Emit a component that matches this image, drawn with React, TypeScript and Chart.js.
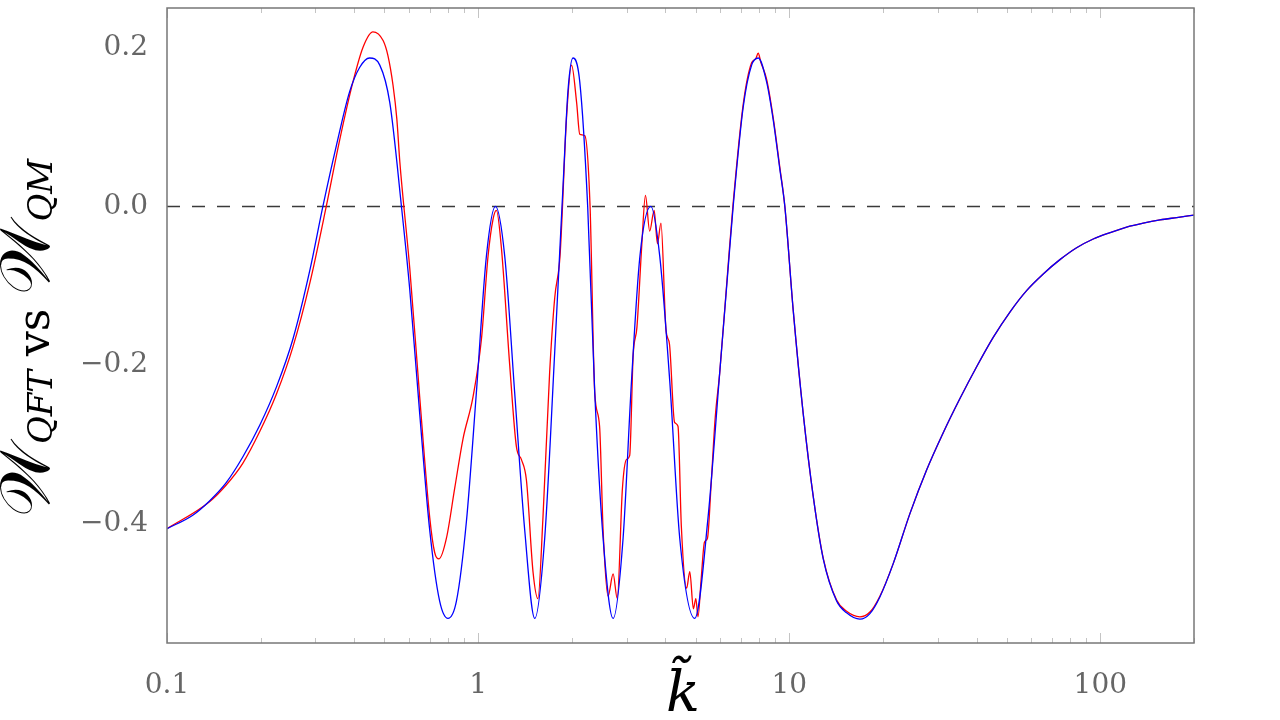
import { useEffect, useRef } from "react";
import { Chart, registerables } from "chart.js";

Chart.register(...registerables);

// k-tilde values and W values (blue: W_QM, red: W_QFT)
const blueK = [0.1, 0.121, 0.137, 0.155, 0.175, 0.199, 0.225, 0.254, 0.288, 0.317, 0.35, 0.386, 0.416, 0.448, 0.483, 0.52, 0.567, 0.603, 0.649, 0.699, 0.752, 0.8, 0.852, 0.917, 0.987, 1.063, 1.137, 1.218, 1.311, 1.412, 1.521, 1.637, 1.763, 1.875, 1.945, 2.018, 2.122, 2.25, 2.371, 2.522, 2.716, 2.924, 3.112, 3.311, 3.59, 3.836, 4.13, 4.447, 4.97, 5.483, 5.979, 6.362, 6.604, 7.112, 7.57, 7.95, 8.458, 8.875, 9.328, 9.68, 10.3, 11.09, 11.95, 12.86, 14.2, 15.29, 16.87, 18.17, 19.56, 21.59, 24.43, 27.64, 31.26, 35.38, 40.03, 45.25, 51.21, 57.94, 65.53, 74.15, 83.89, 94.89, 107.4, 121.5, 137.4, 155.5, 176, 200];
const blueW = [-0.406, -0.389, -0.371, -0.348, -0.316, -0.275, -0.227, -0.167, -0.08, 0, 0.076, 0.144, 0.175, 0.187, 0.178, 0.131, 0, -0.105, -0.261, -0.408, -0.497, -0.519, -0.497, -0.397, -0.235, -0.063, 0, -0.063, -0.235, -0.408, -0.519, -0.418, -0.183, 0.026, 0.146, 0.187, 0.157, 0, -0.235, -0.418, -0.519, -0.418, -0.22, -0.063, 0, -0.063, -0.22, -0.418, -0.519, -0.392, -0.209, -0.078, 0, 0.125, 0.178, 0.187, 0.157, 0.11, 0.047, 0, -0.131, -0.261, -0.366, -0.444, -0.497, -0.512, -0.52, -0.513, -0.492, -0.45, -0.387, -0.332, -0.285, -0.242, -0.202, -0.165, -0.133, -0.106, -0.085, -0.067, -0.052, -0.041, -0.033, -0.026, -0.021, -0.017, -0.014, -0.011];

const redK = [0.1, 0.137, 0.155, 0.175, 0.199, 0.225, 0.254, 0.288, 0.325, 0.359, 0.396, 0.427, 0.459, 0.495, 0.513, 0.533, 0.548, 0.56, 0.603, 0.649, 0.699, 0.725, 0.749, 0.791, 0.841, 0.894, 0.963, 1.025, 1.076, 1.117, 1.145, 1.188, 1.263, 1.328, 1.378, 1.43, 1.501, 1.557, 1.616, 1.698, 1.763, 1.833, 1.926, 1.997, 2.073, 2.122, 2.203, 2.29, 2.371, 2.457, 2.522, 2.616, 2.716, 2.8, 2.91, 2.996, 3.07, 3.15, 3.24, 3.36, 3.45, 3.56, 3.68, 3.77, 3.87, 4.02, 4.12, 4.28, 4.39, 4.5, 4.68, 4.79, 4.92, 5.01, 5.09, 5.21, 5.34, 5.46, 5.61, 5.78, 5.98, 6.36, 6.6, 7.11, 7.57, 7.8, 7.95, 8.1, 8.46, 8.88, 9.33, 9.68, 10.3, 11.09, 11.95, 12.86, 14.2, 15.29, 16.87, 18.17, 19.56, 21.59, 24.43, 27.64, 31.26, 35.38, 40.03, 45.25, 51.21, 57.94, 65.53, 74.15, 83.89, 94.89, 107.4, 121.5, 137.4, 155.5, 176, 200];
const redW = [-0.406, -0.372, -0.351, -0.324, -0.283, -0.236, -0.177, -0.096, 0, 0.084, 0.157, 0.201, 0.22, 0.209, 0.19, 0.152, 0.11, 0.057, -0.078, -0.24, -0.392, -0.436, -0.444, -0.418, -0.355, -0.293, -0.24, -0.167, -0.063, -0.016, -0.005, -0.052, -0.199, -0.303, -0.319, -0.345, -0.46, -0.494, -0.392, -0.209, -0.115, -0.063, 0.115, 0.178, 0.131, 0.091, 0.089, 0, -0.235, -0.277, -0.408, -0.491, -0.463, -0.494, -0.355, -0.319, -0.314, -0.188, -0.152, -0.047, 0.014, -0.031, -0.005, -0.047, -0.021, -0.157, -0.173, -0.272, -0.277, -0.403, -0.481, -0.46, -0.507, -0.494, -0.517, -0.47, -0.423, -0.418, -0.35, -0.267, -0.209, -0.075, 0.003, 0.128, 0.181, 0.186, 0.193, 0.182, 0.16, 0.112, 0.049, 0, -0.131, -0.261, -0.366, -0.443, -0.496, -0.51, -0.517, -0.511, -0.491, -0.45, -0.387, -0.332, -0.285, -0.242, -0.202, -0.165, -0.133, -0.106, -0.085, -0.067, -0.052, -0.041, -0.033, -0.026, -0.021, -0.017, -0.014, -0.011];

const zeroK = [0.1, 200];
const zeroW = [0, 0];

const xMajorTicks = [0.1, 1, 10, 100];
const xTickLabels = ["0.1", "1", "10", "100"];
const xMinorTicks = [0.2, 0.3, 0.4, 0.5, 0.6, 0.7, 0.8, 0.9, 2, 3, 4, 5, 6, 7, 8, 9, 20, 30, 40, 50, 60, 70, 80, 90, 200];
const yTicks = [-0.4, -0.2, 0, 0.2];
const yTickLabels = ["\u22120.4", "\u22120.2", "0.0", "0.2"];

const X_MIN = 0.1;
const X_MAX = 200;
const Y_MIN = -0.55;
const Y_MAX = 0.25;

const TICK_FONT = "'DejaVu Serif'";

function pts(xs: number[], ys: number[]) {
  return xs.map((x, i) => ({ x, y: ys[i] }));
}

const decorPlugin = {
  id: "decor",
  afterDatasetsDraw(chart: any) {
    const { ctx, chartArea: a, scales } = chart;
    const xs = scales.x;
    ctx.save();
    ctx.strokeStyle = "#c4c4c4";
    ctx.lineWidth = 1;
    const tick = (v: number, len: number) => {
      const px = Math.round(xs.getPixelForValue(v)) + 0.5;
      ctx.beginPath();
      ctx.moveTo(px, a.bottom);
      ctx.lineTo(px, a.bottom - len);
      ctx.moveTo(px, a.top);
      ctx.lineTo(px, a.top + len);
      ctx.stroke();
    };
    xMajorTicks.forEach((v) => tick(v, 10));
    xMinorTicks.forEach((v) => tick(v, 5));
    ctx.strokeStyle = "#777";
    ctx.lineWidth = 1.5;
    ctx.strokeRect(a.left, a.top, a.right - a.left, a.bottom - a.top);
    ctx.restore();
  },
  afterDraw(chart: any) {
    const { ctx } = chart;
    ctx.save();
    ctx.fillStyle = "#000";
    // y-axis title, rotated
    ctx.translate(49, 338);
    ctx.rotate(-Math.PI / 2);
    const pieces = [
      { t: "\uD835\uDCB2", f: "70px 'DejaVu Serif'", dy: 0 },
      { t: "QFT", f: "italic 34px 'DejaVu Serif'", dy: 3 },
      { t: " vs ", f: "44px 'DejaVu Serif'", dy: 0 },
      { t: "\uD835\uDCB2", f: "70px 'DejaVu Serif'", dy: 0 },
      { t: "QM", f: "italic 34px 'DejaVu Serif'", dy: 3 },
    ];
    let total = 0;
    const widths = pieces.map((p) => {
      ctx.font = p.f;
      const w = ctx.measureText(p.t).width;
      total += w;
      return w;
    });
    let x = -total / 2;
    ctx.textBaseline = "alphabetic";
    ctx.textAlign = "left";
    pieces.forEach((p, i) => {
      ctx.font = p.f;
      ctx.fillText(p.t, x, p.dy);
      x += widths[i];
    });
    ctx.restore();

    // x-axis title
    ctx.save();
    ctx.fillStyle = "#000";
    ctx.font = "italic 56px 'DejaVu Serif'";
    ctx.textAlign = "center";
    ctx.textBaseline = "alphabetic";
    ctx.fillText("k\u0303", 683, 711);
    ctx.restore();
  },
};

export default function App() {
  const ref = useRef<HTMLCanvasElement | null>(null);
  useEffect(() => {
    if (!ref.current) return;
    const chart = new Chart(ref.current, {
      type: "line",
      data: {
        datasets: [
          {
            data: pts(blueK, blueW),
            borderColor: "#0000ff",
            borderWidth: 1.3,
            pointRadius: 0,
            cubicInterpolationMode: "monotone",
            order: 0,
          },
          {
            data: pts(redK, redW),
            borderColor: "#ff0000",
            borderWidth: 1.3,
            pointRadius: 0,
            cubicInterpolationMode: "monotone",
            order: 1,
          },
          {
            data: pts(zeroK, zeroW),
            borderColor: "#3a3a3a",
            borderWidth: 1.5,
            borderDash: [13, 12],
            pointRadius: 0,
            order: 2,
          },
        ],
      },
      options: {
        animation: false,
        responsive: false,
        devicePixelRatio: 1,
        layout: { padding: { top: 8, right: 86, left: 0, bottom: 0 } },
        plugins: { legend: { display: false }, tooltip: { enabled: false } },
        scales: {
          x: {
            type: "logarithmic",
            min: X_MIN,
            max: X_MAX,
            grid: { display: false },
            border: { display: false },
            afterBuildTicks: (s: any) => {
              s.ticks = xMajorTicks.map((v) => ({ value: v }));
            },
            afterFit: (s: any) => {
              s.height = 77;
              s.paddingLeft = 0;
              s.paddingRight = 0;
            },
            ticks: {
              autoSkip: false,
              maxRotation: 0,
              padding: 18,
              color: "#666",
              font: { family: TICK_FONT, size: 28 },
              callback: (_v: any, i: number) => xTickLabels[i],
            },
          },
          y: {
            type: "linear",
            min: Y_MIN,
            max: Y_MAX,
            grid: { display: false },
            border: { display: false },
            afterBuildTicks: (s: any) => {
              s.ticks = yTicks.map((v) => ({ value: v }));
            },
            afterFit: (s: any) => {
              s.width = 167;
              s.paddingTop = 0;
              s.paddingBottom = 0;
            },
            ticks: {
              padding: 11,
              color: "#666",
              font: { family: TICK_FONT, size: 28 },
              callback: (_v: any, i: number) => yTickLabels[i],
            },
          },
        },
      },
      plugins: [decorPlugin],
    });
    return () => chart.destroy();
  }, []);
  return (
    <div style={{ position: "absolute", left: 0, top: 0, width: 1280, height: 720, background: "#fff" }}>
      <canvas ref={ref} width={1280} height={720} />
    </div>
  );
}
